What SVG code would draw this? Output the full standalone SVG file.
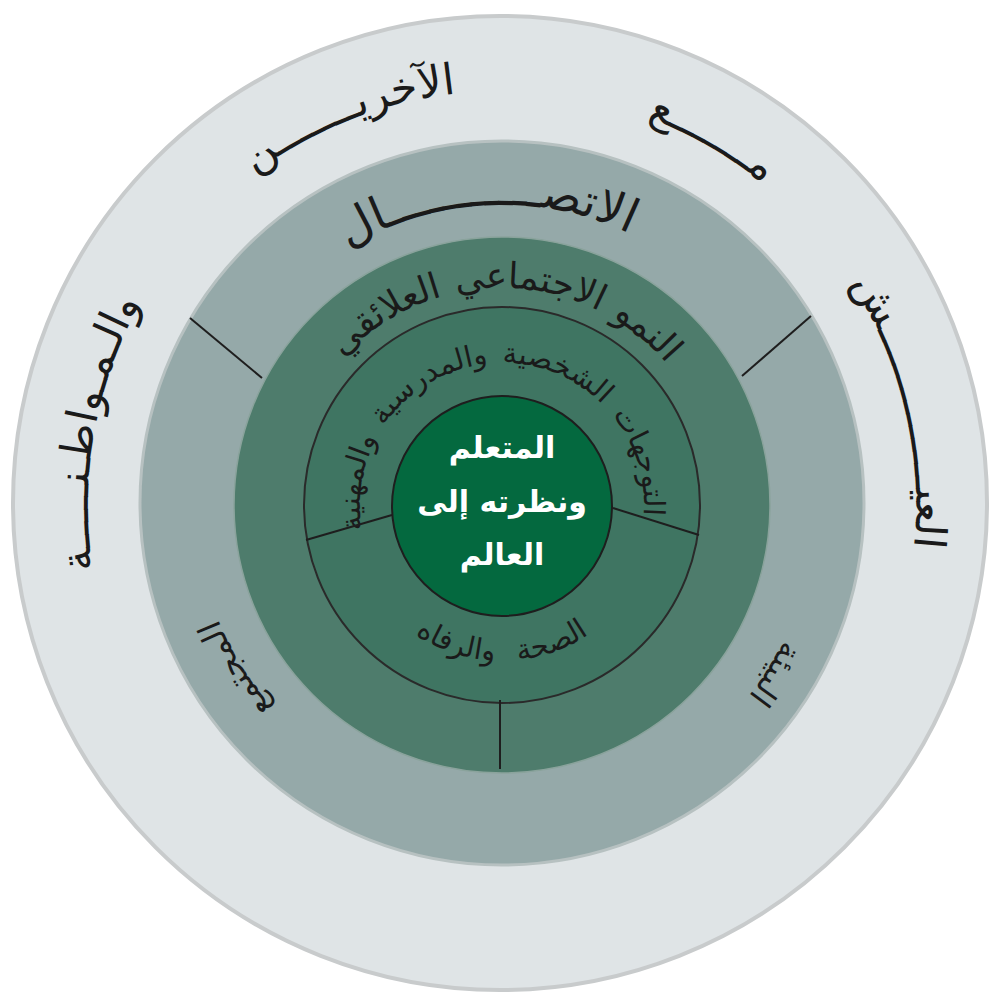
<svg xmlns="http://www.w3.org/2000/svg" width="992" height="995" viewBox="0 0 992 995">
<style>
.ar{font-family:"DejaVu Sans",sans-serif;fill:#1a1a1a;}
.outer{font-size:43px;}
.gray{font-size:47px;}
.grays{font-size:32px;}
.green{font-size:36px;}
.inner{font-size:29px;}
.ctr{font-family:"DejaVu Sans",sans-serif;font-weight:bold;font-size:30px;fill:#ffffff;text-anchor:middle;}
.div{stroke:#1e1e1e;stroke-width:2;fill:none;}
</style>
<defs>
<path id="pOuter" d="M502,919 A414,414 0 1 1 502,91 A414,414 0 1 1 502,919"/>
<path id="pGray" d="M502,805 A300,300 0 1 1 502,205 A300,300 0 1 1 502,805"/>
<path id="pGreen" d="M502,722 A217,217 0 1 1 502,288 A217,217 0 1 1 502,722"/>
<path id="pInner" d="M502,647 A142,142 0 1 1 502,363 A142,142 0 1 1 502,647"/>
<path id="pBottom" d="M347,506 A155,155 0 0 0 657,506"/>
</defs>
<g id="ring-outer">
<circle cx="500" cy="503" r="487" fill="#dfe4e6" stroke="#c8cbcc" stroke-width="4"/>
<text class="ar outer" text-anchor="middle"><textPath href="#pOuter" startOffset="71.3%">العيـــــــــــــش</textPath></text>
<text class="ar outer" text-anchor="middle"><textPath href="#pOuter" startOffset="58.3%">مـــــــع</textPath></text>
<text class="ar outer" text-anchor="middle"><textPath href="#pOuter" startOffset="44.0%">الآخريـــــــن</textPath></text>
<text class="ar outer" text-anchor="middle"><textPath href="#pOuter" startOffset="27.8%">والـمـواطـنـــــة</textPath></text>
</g>
<g id="ring-gray">
<circle cx="502" cy="503" r="362" fill="#95a9a9" stroke="#b7c1c1" stroke-width="3"/>
<text class="ar gray" text-anchor="middle"><textPath href="#pGray" startOffset="49.2%">الاتصـــــــــــال</textPath></text>
<text class="ar grays" text-anchor="middle" dy="-6"><textPath href="#pGray" startOffset="16.2%">المجتمع</textPath></text>
<text class="ar grays" text-anchor="middle" dy="-12"><textPath href="#pGray" startOffset="83.8%">البيئة</textPath></text>
</g>
<g id="ring-green">
<circle cx="502" cy="505" r="268" fill="#4e7c6c" stroke="#8aa39c" stroke-width="1.5"/>
<text class="ar green" text-anchor="middle" word-spacing="3"><textPath href="#pGreen" startOffset="50.3%">النمو الاجتماعي العلائقي</textPath></text>
</g>
<g id="ring-inner">
<circle cx="502" cy="505" r="198" fill="#3f7562" stroke="#2a2a2a" stroke-width="2"/>
<text class="ar inner" text-anchor="middle" word-spacing="5"><textPath href="#pInner" startOffset="49.2%">التوجهات الشخصية والمدرسية والمهنية</textPath></text>
<text class="ar inner" text-anchor="middle" word-spacing="14"><textPath href="#pBottom" startOffset="50%">الصحة والرفاه</textPath></text>
</g>
<g id="connectors">
<line class="div" x1="190" y1="318" x2="262" y2="378"/>
<line class="div" x1="811" y1="316" x2="742" y2="376"/>
<line class="div" x1="500" y1="700" x2="500" y2="769"/>
<line class="div" x1="306" y1="540" x2="392" y2="515"/>
<line class="div" x1="613" y1="508" x2="699" y2="535"/>
</g>
<g id="center">
<circle cx="502" cy="506" r="110" fill="#04693f" stroke="#1e1e1e" stroke-width="2"/>
<text class="ctr" x="502" y="458">المتعلم</text>
<text class="ctr" x="502" y="512">ونظرته إلى</text>
<text class="ctr" x="502" y="565">العالم</text>
</g>
</svg>
